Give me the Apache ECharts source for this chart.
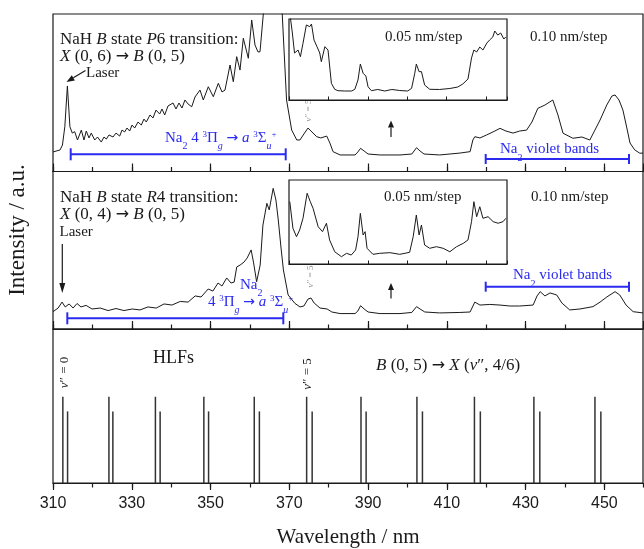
<!DOCTYPE html>
<html>
<head>
<meta charset="utf-8">
<script src="https://cdn.jsdelivr.net/npm/echarts@6/dist/echarts.min.js"></script>
<style>
  html, body { margin: 0; padding: 0; background: #fff; }
  #main { width: 644px; height: 549px; }
</style>
</head>
<body>
<div id="main"></div>
<script>
// intensities are in a.u. scaled 0..100 to the height of each panel

// top panel: NaH B state P6 excitation, 0.10 nm/step
var p6Wl = [310.0,311.8,312.4,313.0,313.65,314.3,314.90,315.51,316.22,317.19,317.87,318.45,319.14,319.72,320.59,321.30,322.26,322.95,323.53,324.22,325.23,326.00,326.93,327.52,328.20,328.79,329.47,330.06,330.74,331.58,332.42,333.10,333.69,334.63,335.39,336.15,337.09,337.67,338.36,339.20,340.47,341.23,341.99,342.75,343.51,344.28,345.22,346.05,347.32,348.16,349.43,350.70,351.97,352.91,353.67,354.94,355.78,356.64,357.48,358.32,359.59,360.45,361.29,362.05,362.56,363.40,364.3,367.4,368.2,369.3,370.6,371.9,372.7,373.7,374.75,375.5,376.95,378.0,379.5,380.3,381.1,382.9,386.7,387.4,388.1,389.0,390.0,393.0,398.1,401.1,402.3,403.2,404.2,408.2,413.3,415.9,416.6,417.1,418.4,420.1,421.7,423.5,425.0,426.8,428.5,430.25,431.6,433.1,434.9,436.9,438.2,439.5,442.0,444.3,446.3,447.6,448.9,450.6,451.9,452.7,453.7,454.7,455.7,456.5,457.7,459.0,459.8];
var p6Int = [12.4,13.7,16.8,28.4,54.3,28.4,24.4,25.3,20.0,26.3,20.0,25.7,21.3,24.4,20.0,21.9,18.7,21.9,20.6,23.2,21.9,24.4,22.5,26.3,25.1,27.6,25.7,29.5,27.6,31.4,29.5,33.3,31.4,35.9,34.0,39.0,36.5,39.7,35.9,41.6,43.5,39.7,43.5,40.3,45.4,42.9,41.1,47.3,51.7,45.4,53.8,47.5,56.0,50.5,51.7,67.6,57.0,72.9,64.4,84.6,71.9,96.2,80.3,75.9,76.0,100,200,200,100,45.4,26.3,20.0,20,23.8,27.6,25.7,22.1,21.3,22.5,18.1,12.6,10.5,10.5,12.4,14.7,13.0,11.1,10.5,10.5,11.1,15.1,13.0,11.1,10.5,11.7,12.6,20,22.1,21.3,23.2,25.1,27.4,25.7,24.4,25.7,26.3,31.4,40.1,42.2,45.4,35.9,24.3,21.1,21.9,20,26.3,32.7,42.2,47.9,48.6,45.4,39.0,27.6,18.1,13.7,11.6,11.7];

// middle panel: NaH B state R4 excitation
var r4Wl = [310.0,311.3,312.3,313.1,314.1,315.1,316.1,317.1,318.4,319.9,322.0,324.0,326.0,328.0,330.1,332.1,334.1,336.2,338.2,340.2,342.3,344.3,346.1,347.6,349.4,350.6,351.9,352.9,354.1,355.2,356.0,356.65,357.5,358.5,359.3,360.3,360.9,361.7,362.6,363.3,364.3,364.9,365.9,366.6,367.2,367.9,368.5,369.7,371.4,372.7,373.7,374.75,375.5,376.3,377.8,379.6,380.8,382.9,386.7,387.4,388.1,389.0,390.0,393.0,398.1,401.1,402.3,403.2,404.4,408.2,413.3,415.9,417.1,418.4,420.9,423.5,426.0,428.5,431.9,432.9,433.7,434.9,436.2,437.9,439.2,441.2,443.8,447.1,448.9,450.6,452.7,453.9,455.5,457.3,459.8];
var r4Int = [11.0,13.3,17.1,14.0,15.9,13.3,16.2,14.0,15.0,12.7,13.3,11.7,13.0,11.7,12.7,12.1,14.0,13.3,15.9,15.2,17.5,17.1,21.0,20.3,25.4,24.1,29.2,27.3,32.4,29.2,29.8,39.4,40.6,42.5,45.1,50.2,42.5,30.0,40.6,66.0,79.8,75.6,89.3,81.9,69.2,51.4,37.5,21.6,16.3,14.0,14.6,19.0,19.7,16.5,13.3,12.7,10.8,9.8,9.8,11.4,14.8,12.7,10.8,9.8,9.8,10.5,14.2,12.7,10.8,10.2,10.5,10.8,17.1,15.2,15.6,15.2,14.6,14.6,15.2,21.0,23.7,21.0,22.9,21.6,16.5,12.1,12.7,14.2,17.1,20.3,23.7,21.6,15.2,11.0,10.2];

// insets, 0.05 nm/step
var insP6Wl = [370.0,370.4,370.85,371.4,372.3,372.9,373.55,374.4,375.25,375.7,376.35,377.1,377.8,378.2,379.1,379.9,380.75,381.6,382.4,384.1,385.9,386.7,387.5,388.1,388.8,389.5,390.05,390.9,392.5,394.3,396.1,398.1,400.1,401.1,401.9,402.3,403.0,403.6,404.4,405.7,408.2,410.8,412.8,414.1,415.4,416.3,416.9,417.6,418.4,419.2,420.2,420.9,421.7,422.2,422.95,423.7,424.5,425.0];
var insP6Int = [130,100,82.7,58,61.7,53.5,70,92.6,90.5,93.8,74,65.8,58,47.3,65.8,61.7,20.6,13.2,11.5,11.1,11.1,13.2,24.7,44.4,33,29.6,16.4,11.5,13.0,11.1,13.0,11.7,11.1,14.4,33,44.4,35,35,18.5,13.2,13.0,14.2,16.0,19.8,25.9,51.9,61.7,59.3,65.4,61.7,70.4,74.1,77.8,85.2,80.2,82.7,75.3,77.8];
var insR4Wl = [370.2,371.0,371.9,372.7,373.55,374.6,375.4,376.1,377.4,378.5,379.5,380.3,381.6,383.3,384.6,385.8,386.9,387.5,388.1,388.8,389.3,389.8,391.3,393.0,395.6,398.1,400.6,401.5,402.3,403.0,403.6,404.4,405.7,407.4,409.1,410.8,412.5,414.2,415.4,416.3,416.9,417.6,418.4,419.2,420.5,421.8,423.05,424.3,425.0];
var insR4Int = [74.2,42.5,32.5,40.5,54.4,84.2,74.2,66.3,44.4,38.5,48.5,28.6,14.6,8.7,12.7,10.7,16.7,32.5,60.3,34.5,38.5,18.7,11.5,12.7,13.5,11.5,13.9,32.5,58.3,34.5,46.4,22.6,18.7,20.6,18.7,14.6,20.6,24.6,28.6,50.4,74.2,56.3,68.2,54.4,56.3,50.4,48.5,50.4,54.4];

// HLF sticks B(0,5) -> X(v'', J''=4 / 6), v'' = 0..10
var hlfJ4 = [312.5,324.2,336.0,348.3,361.1,374.4,388.2,402.4,417.0,432.1,447.6];
var hlfJ6 = [313.7,325.2,337.2,349.5,362.4,375.8,389.5,403.8,418.5,433.6,449.1];
var hlfJ4H = 56, hlfJ6H = 46.5;

var SERIF = '"Liberation Serif", "Times New Roman", serif';
var ARROWF = '"DejaVu Sans", sans-serif';
var INK = '#1a1a1a';
var BLUE = '#2a2af0';

function fnt(size, italic) { return (italic ? 'italic ' : '') + size + 'px ' + SERIF; }
function pairs(xs, ys) { return xs.map(function (x, i) { return [x, ys[i]]; }); }

var chart = echarts.init(document.getElementById('main'));

function majorX(gi, outside) {
  return {
    gridIndex: gi, type: 'value', position: 'bottom', min: 310, max: 459.8, interval: 20,
    axisLine: { lineStyle: { color: INK, width: 1.2 } },
    axisTick: { inside: !outside, length: outside ? 7 : 8, lineStyle: { color: INK, width: 1.2 } },
    axisLabel: { show: !!outside, showMaxLabel: false, margin: 13, color: INK, fontSize: 16, fontFamily: '"Liberation Sans", Arial, sans-serif' },
    splitLine: { show: false }
  };
}
function minorX(gi, outside) {
  return {
    gridIndex: gi, type: 'value', position: 'bottom', min: 310, max: 459.8, interval: 10,
    axisLine: { show: false },
    axisTick: { inside: !outside, length: 4.5, lineStyle: { color: INK, width: 1.2 } },
    axisLabel: { show: false }, splitLine: { show: false }
  };
}
function insetX(gi) {
  return {
    gridIndex: gi, type: 'value', position: 'bottom', min: 370, max: 425.3, interval: 10,
    axisLine: { lineStyle: { color: INK, width: 1.2 } },
    axisTick: { inside: true, length: 3.5, lineStyle: { color: INK, width: 1 } },
    axisLabel: { show: false }, splitLine: { show: false }
  };
}

var xAxes = [majorX(0), minorX(0), majorX(1), minorX(1), majorX(2, true), minorX(2, true), insetX(3), insetX(4)];
xAxes[4].name = 'Wavelength / nm';
xAxes[4].nameLocation = 'middle';
xAxes[4].nameGap = 44;
xAxes[4].nameTextStyle = { fontSize: 21, fontFamily: SERIF, color: INK };

var yAxes = [0, 1, 2, 3, 4].map(function (i) {
  return { gridIndex: i, type: 'value', min: 0, max: 100, show: false };
});

function spectrum(xi, yi, xs, ys) {
  return {
    type: 'line', xAxisIndex: xi, yAxisIndex: yi, data: pairs(xs, ys),
    showSymbol: false, clip: true, lineStyle: { color: INK, width: 1 }, silent: true
  };
}

var sticks = hlfJ4.map(function (x) { return [x, hlfJ4H]; }).concat(hlfJ6.map(function (x) { return [x, hlfJ6H]; }));

// annotation helpers
function txt(x, y, text, size) {
  return { type: 'text', x: x, y: y,
           style: { text: text, font: fnt(size), fill: INK, align: 'left', verticalAlign: 'middle',
                    rich: { i: { font: fnt(size, true), fill: INK },
                            ar: { font: Math.round(size * 0.95) + 'px ' + ARROWF, fill: INK } } } };
}
function blueRich(size) {
  var sb = Math.round(size * 0.68), sp = Math.round(size * 0.6);
  return {
    n: { font: fnt(size), fill: BLUE, verticalAlign: 'top', lineHeight: size + 2 },
    it: { font: fnt(size, true), fill: BLUE, verticalAlign: 'top', lineHeight: size + 2 },
    ar: { font: Math.round(size * 0.95) + 'px ' + ARROWF, fill: BLUE, verticalAlign: 'top', padding: [1, 0, 0, 0] },
    sb: { font: fnt(sb), fill: BLUE, verticalAlign: 'top', padding: [size - 4, 0, 0, 0] },
    sbi: { font: fnt(sb, true), fill: BLUE, verticalAlign: 'top', padding: [size - 4, 0, 0, 0] },
    sp: { font: fnt(sp), fill: BLUE, verticalAlign: 'top' }
  };
}
function blueTxt(x, yc, text) {
  return { type: 'text', x: x, y: yc - 7.5,
           style: { text: text, font: fnt(15), fill: BLUE, align: 'left', verticalAlign: 'top', rich: blueRich(15) } };
}
function arrow(x1, y1, x2, y2, len, wid) {
  var a = Math.atan2(y2 - y1, x2 - x1);
  var bx = x2 - len * Math.cos(a), by = y2 - len * Math.sin(a);
  var nx = -Math.sin(a) * wid / 2, ny = Math.cos(a) * wid / 2;
  return [
    { type: 'line', shape: { x1: x1, y1: y1, x2: bx, y2: by }, style: { stroke: INK, lineWidth: 1.2 } },
    { type: 'polygon', shape: { points: [[x2, y2], [bx + nx, by + ny], [bx - nx, by - ny]] }, style: { fill: INK } }
  ];
}
function bracket(x1, x2, y, h) {
  var st = { stroke: BLUE, lineWidth: 2 };
  return [
    { type: 'line', shape: { x1: x1, y1: y, x2: x2, y2: y }, style: st },
    { type: 'line', shape: { x1: x1, y1: y - h, x2: x1, y2: y + h }, style: st },
    { type: 'line', shape: { x1: x2, y1: y - h, x2: x2, y2: y + h }, style: st }
  ];
}
function vTxt(x, y, n, size, color) {
  return { type: 'text', x: x, y: y, rotation: Math.PI / 2,
           style: { text: '{i|v}\u2033 = ' + n, font: fnt(size), fill: color, align: 'center', verticalAlign: 'middle',
                    rich: { i: { font: fnt(size, true), fill: color } } } };
}

var blueTop = '{n|Na}{sb|2}{n| 4 }{sp|3}{n|\u03A0}{sbi|g}{n| }{ar|\u2192}{n| }{it|a}{n| }{sp|3}{n|\u03A3}{sbi|u}{sp|+}';
var blueMid2 = '{n|4 }{sp|3}{n|\u03A0}{sbi|g}{n| }{ar|\u2192}{n| }{it|a}{n| }{sp|3}{n|\u03A3}{sbi|u}{sp|+}';
var violet = '{n|Na}{sb|2}{n| violet bands}';

var graphics = [
  txt(60, 40, 'NaH {i|B} state {i|P}6 transition:', 17),
  txt(60, 57, '{i|X} (0, 6) {ar|\u2192} {i|B} (0, 5)', 17),
  txt(86, 73, 'Laser', 15),
  txt(60, 197.5, 'NaH {i|B} state {i|R}4 transition:', 17),
  txt(60, 214.5, '{i|X} (0, 4) {ar|\u2192} {i|B} (0, 5)', 17),
  txt(59.5, 232, 'Laser', 15),
  txt(385, 37, '0.05 nm/step', 15),
  txt(530, 37, '0.10 nm/step', 15),
  txt(384, 197.5, '0.05 nm/step', 15),
  txt(531, 197.5, '0.10 nm/step', 15),
  txt(153, 358.5, 'HLFs', 18),
  txt(376, 366, '{i|B} (0, 5) {ar|\u2192} {i|X} ({i|v}\u2033, 4/6)', 17),
  vTxt(64.5, 372.5, 0, 13, INK),
  vTxt(307.5, 374, 5, 13, INK),
  vTxt(309, 110.5, 5, 9, '#8a8a8a'),
  vTxt(310.5, 276.5, 5, 9, '#8a8a8a'),
  { type: 'text', x: 18, y: 230, rotation: Math.PI / 2,
    style: { text: 'Intensity / a.u.', font: fnt(23), fill: INK, align: 'center', verticalAlign: 'middle' } },
  blueTxt(165, 138, blueTop),
  blueTxt(500, 149.5, violet),
  blueTxt(240, 285, '{n|Na}{sb|2}'),
  blueTxt(208, 301.7, blueMid2),
  blueTxt(513, 275.5, violet)
].concat(
  arrow(85.5, 70.5, 66.5, 82, 8, 6),
  arrow(62.3, 244, 62.3, 293, 10, 6),
  arrow(391, 137, 391, 120.5, 7, 6),
  arrow(391, 298.5, 391, 283, 7, 6),
  bracket(70.7, 285.7, 154.3, 6),
  bracket(485.7, 629, 159, 5),
  bracket(67.3, 283.3, 318.3, 6),
  bracket(485.7, 629, 286.7, 5)
);

var option = {
  backgroundColor: '#ffffff',
  animation: false,
  grid: [
    { left: 53, top: 14, width: 590, height: 157.5, show: true, borderColor: INK, borderWidth: 1.2 },
    { left: 53, top: 171.5, width: 590, height: 157.5, show: true, borderColor: INK, borderWidth: 1.2 },
    { left: 53, top: 329, width: 590, height: 157, show: true, borderColor: INK, borderWidth: 1.2 },
    { left: 289, top: 19, width: 218, height: 81, show: true, backgroundColor: '#fff', borderColor: INK, borderWidth: 1.2 },
    { left: 289, top: 180, width: 218, height: 84, show: true, backgroundColor: '#fff', borderColor: INK, borderWidth: 1.2 }
  ],
  xAxis: xAxes,
  yAxis: yAxes,
  series: [
    spectrum(0, 0, p6Wl, p6Int),
    spectrum(2, 1, r4Wl, r4Int),
    {
      type: 'custom', xAxisIndex: 4, yAxisIndex: 2, data: sticks, silent: true,
      renderItem: function (params, api) {
        var p0 = api.coord([api.value(0), 0]);
        var p1 = api.coord([api.value(0), api.value(1)]);
        return { type: 'line', shape: { x1: p0[0], y1: p0[1], x2: p1[0], y2: p1[1] },
                 style: { stroke: '#333', lineWidth: 1.5 } };
      }
    },
    spectrum(6, 3, insP6Wl, insP6Int),
    spectrum(7, 4, insR4Wl, insR4Int)
  ],
  graphic: graphics
};

chart.setOption(option);
</script>
</body>
</html>
